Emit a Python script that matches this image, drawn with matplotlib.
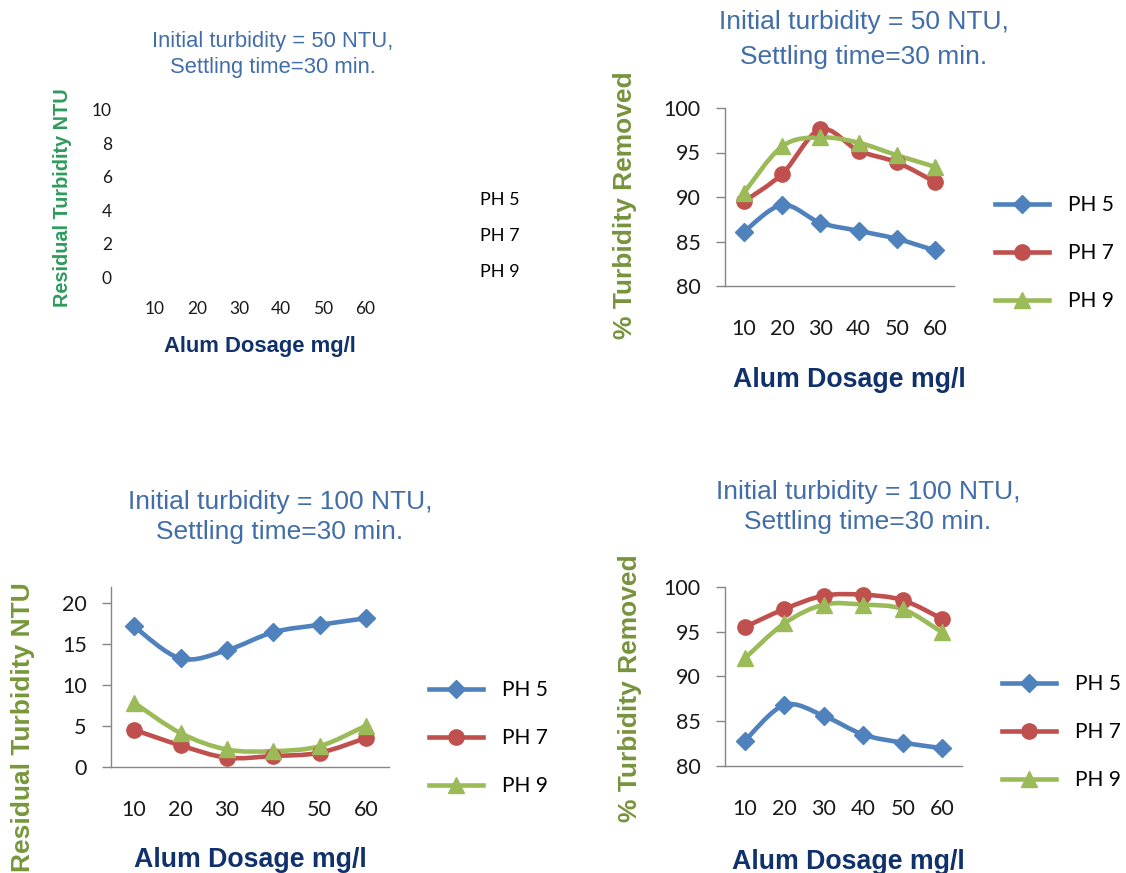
import numpy as np
import matplotlib
matplotlib.use('Agg')
import matplotlib.pyplot as plt
from matplotlib.path import Path
from matplotlib.patches import PathPatch
from matplotlib.lines import Line2D

# data
dosage = [10, 20, 30, 40, 50, 60]
series = ['PH 5', 'PH 7', 'PH 9']

# initial turbidity 50 NTU, % removed
removed_50_ph5 = [86.1, 89.1, 87.1, 86.2, 85.3, 84.0]
removed_50_ph7 = [89.5, 92.6, 97.6, 95.2, 93.9, 91.7]
removed_50_ph9 = [90.5, 95.7, 96.7, 96.1, 94.7, 93.4]

# initial turbidity 100 NTU, residual turbidity
resid_100_ph5 = [17.1, 13.2, 14.2, 16.4, 17.3, 18.1]
resid_100_ph7 = [4.5, 2.6, 1.1, 1.3, 1.7, 3.5]
resid_100_ph9 = [7.8, 4.1, 2.1, 1.9, 2.5, 5.0]

# initial turbidity 100 NTU, % removed
removed_100_ph5 = [82.8, 86.8, 85.6, 83.5, 82.6, 82.0]
removed_100_ph7 = [95.5, 97.5, 99.0, 99.1, 98.5, 96.4]
removed_100_ph9 = [92.0, 95.9, 98.0, 98.0, 97.5, 94.9]

colors = ['#4F81BD', '#C0504D', '#9BBB59']
markers = ['D', 'o', '^']
msizes = [9, 11, 11]

W, H = 1126, 873
TITLE_C = '#416DA8'
XLAB_C = '#10316B'
OLIVE = '#77933C'
AXIS_C = '#868686'
TICK_FONT = 'Lato'
TEXT_FONT = 'Liberation Sans'


def box(l, r, t, b):
    return [l / W, 1 - b / H, (r - l) / W, (b - t) / H]


def fx(x):
    return x / W


def fy(y):
    return 1 - y / H


def smooth_path(x, y):
    # excel style smoothed line (catmull-rom as bezier)
    pts = np.column_stack([x, y]).astype(float)
    n = len(pts)
    verts = [pts[0]]
    codes = [Path.MOVETO]
    for i in range(n - 1):
        p0 = pts[i - 1] if i > 0 else pts[i]
        p1 = pts[i]
        p2 = pts[i + 1]
        p3 = pts[i + 2] if i + 2 < n else pts[i + 1]
        c1 = p1 + (p2 - p0) / 6.0
        c2 = p2 - (p3 - p1) / 6.0
        verts += [c1, c2, p2]
        codes += [Path.CURVE4] * 3
    return Path(verts, codes)


def style_axes(ax, ylim, yticks, tick_size=15.5, pad_x=24):
    ax.set_xlim(5, 65)
    ax.set_ylim(*ylim)
    ax.set_xticks(dosage)
    ax.set_xticklabels([str(d) for d in dosage])
    ax.set_yticks(yticks)
    for s in ['top', 'right']:
        ax.spines[s].set_visible(False)
    for s in ['left', 'bottom']:
        ax.spines[s].set_color(AXIS_C)
        ax.spines[s].set_linewidth(1.0)
    ax.tick_params(axis='y', length=6.5, width=1.0, color=AXIS_C, pad=11,
                   labelsize=tick_size)
    ax.tick_params(axis='x', length=0, pad=pad_x, labelsize=tick_size)
    for lab in ax.get_xticklabels() + ax.get_yticklabels():
        lab.set_family(TICK_FONT)
        lab.set_color('#1A1A1A')


def draw_series(ax, data):
    for vals, c, m, ms in zip(data, colors, markers, msizes):
        patch = PathPatch(smooth_path(dosage, vals), fill=False, edgecolor=c,
                          linewidth=3.3, capstyle='round', joinstyle='round')
        ax.add_patch(patch)
        ax.plot(dosage, vals, linestyle='none', marker=m, markersize=ms,
                color=c, markeredgecolor=c, clip_on=False, zorder=3)


def add_legend(ax, left, mid):
    handles = [Line2D([], [], color=c, linewidth=3.3, marker=m, markersize=ms)
               for c, m, ms in zip(colors, markers, msizes)]
    ax.legend(handles, series, loc='center left',
              bbox_to_anchor=(fx(left), fy(mid)), bbox_transform=fig.transFigure,
              frameon=False, borderpad=0, borderaxespad=0, handlelength=2.6,
              handletextpad=0.9, labelspacing=1.35,
              prop={'family': TICK_FONT, 'size': 15})


def add_title(cx, y1, y2, size, text):
    lines = text.split('\n')
    fig.text(fx(cx), fy(y1), lines[0], ha='center', va='center',
             family=TEXT_FONT, fontsize=size, color=TITLE_C)
    fig.text(fx(cx), fy(y2), lines[1], ha='center', va='center',
             family=TEXT_FONT, fontsize=size, color=TITLE_C)


fig = plt.figure(figsize=(W / 100, H / 100), dpi=100)

# ---- top left: empty chart
ax1 = fig.add_axes(box(134, 386, 110, 277))
ax1.set_xlim(5, 65)
ax1.set_ylim(0, 10)
ax1.set_xticks(dosage)
ax1.set_xticklabels([str(d) for d in dosage])
ax1.set_yticks([0, 2, 4, 6, 8, 10])
for s in ax1.spines.values():
    s.set_visible(False)
ax1.tick_params(length=0, labelsize=12.5)
ax1.tick_params(axis='y', pad=16)
ax1.tick_params(axis='x', pad=17)
for lab in ax1.get_xticklabels() + ax1.get_yticklabels():
    lab.set_family(TICK_FONT)
    lab.set_color('#1A1A1A')
for name in series:
    ax1.plot([], [], label=name)
ax1.legend(loc='center left', bbox_to_anchor=(fx(480), fy(236)),
           bbox_transform=fig.transFigure, frameon=False, borderpad=0,
           borderaxespad=0, handlelength=0, handletextpad=0, labelspacing=1.12,
           prop={'family': TICK_FONT, 'size': 13})
add_title(273, 42, 68, 15.8, 'Initial turbidity = 50 NTU,\nSettling time=30 min.')
fig.text(fx(62), fy(198), 'Residual Turbidity NTU', rotation=90, ha='center',
         va='center', family=TEXT_FONT, fontweight='bold', fontsize=14.3,
         color='#2E9B5C')
fig.text(fx(260), fy(347), 'Alum Dosage mg/l', ha='center', va='center',
         family=TEXT_FONT, fontweight='bold', fontsize=15.8, color=XLAB_C)

# ---- top right: % removed, 50 NTU
ax2 = fig.add_axes(box(725, 954, 108, 286))
style_axes(ax2, (80, 100), [80, 85, 90, 95, 100])
draw_series(ax2, [removed_50_ph5, removed_50_ph7, removed_50_ph9])
add_legend(ax2, 995, 253)
add_title(864, 22, 57, 19, 'Initial turbidity = 50 NTU,\nSettling time=30 min.')
fig.text(fx(625), fy(205), '% Turbidity Removed', rotation=90, ha='center',
         va='center', family=TEXT_FONT, fontweight='bold', fontsize=19,
         color=OLIVE)
fig.text(fx(849), fy(380), 'Alum Dosage mg/l', ha='center', va='center',
         family=TEXT_FONT, fontweight='bold', fontsize=19.3, color=XLAB_C)

# ---- bottom left: residual turbidity, 100 NTU
ax3 = fig.add_axes(box(111, 389, 586.7, 766.7))
style_axes(ax3, (0, 21.95), [0, 5, 10, 15, 20])
draw_series(ax3, [resid_100_ph5, resid_100_ph7, resid_100_ph9])
add_legend(ax3, 429, 738)
add_title(280, 502, 532, 19, 'Initial turbidity = 100 NTU,\nSettling time=30 min.')
fig.text(fx(23), fy(582), 'Residual Turbidity NTU', rotation=90, ha='center',
         va='top', family=TEXT_FONT, fontweight='bold', fontsize=19,
         color='#78973A')
fig.text(fx(250), fy(860), 'Alum Dosage mg/l', ha='center', va='center',
         family=TEXT_FONT, fontweight='bold', fontsize=19.3, color=XLAB_C)

# ---- bottom right: % removed, 100 NTU
ax4 = fig.add_axes(box(725, 962, 586.7, 766))
style_axes(ax4, (80, 100), [80, 85, 90, 95, 100])
draw_series(ax4, [removed_100_ph5, removed_100_ph7, removed_100_ph9])
add_legend(ax4, 1002, 732)
add_title(868, 492, 522, 19, 'Initial turbidity = 100 NTU,\nSettling time=30 min.')
fig.text(fx(630), fy(688), '% Turbidity Removed', rotation=90, ha='center',
         va='center', family=TEXT_FONT, fontweight='bold', fontsize=19,
         color=OLIVE)
fig.text(fx(848), fy(862), 'Alum Dosage mg/l', ha='center', va='center',
         family=TEXT_FONT, fontweight='bold', fontsize=19.3, color=XLAB_C)

fig.savefig('out.png', dpi=100)
